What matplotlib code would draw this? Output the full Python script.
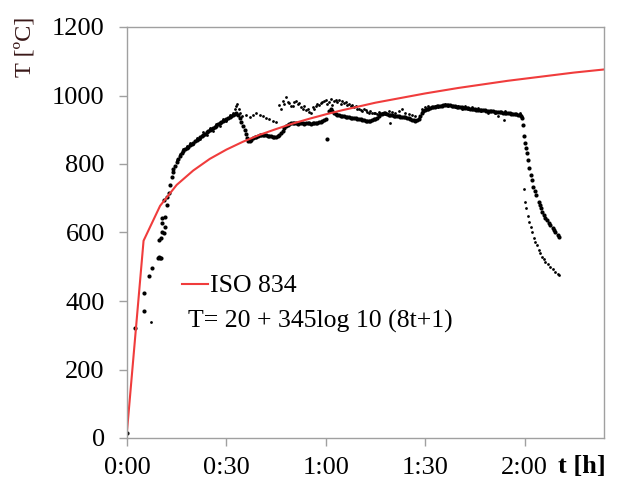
import numpy as np
import matplotlib
matplotlib.use("Agg")
from matplotlib import pyplot as plt

plt.rcParams['font.family'] = ['Liberation Serif', 'DejaVu Serif']

# ISO 834 standard curve, read at 5 min steps (t in minutes)
iso_t = [0, 5, 10, 15, 20, 25, 30, 35, 40, 45, 50, 55, 60, 65, 70, 75, 80, 85,
         90, 95, 100, 105, 110, 115, 120, 125, 130, 135, 140, 144]
iso_T = [20, 576, 678, 739, 781, 815, 842, 865, 885, 902, 918, 932, 945, 957,
         968, 979, 988, 997, 1006, 1014, 1022, 1029, 1036, 1043, 1049, 1055,
         1061, 1067, 1072, 1076]

# measurement 1 (dense, larger dots)
meas1_t = [0, 2.3, 5.0, 5.2, 6.7, 7.5, 9.3, 9.7, 10.1, 10.4, 9.8, 10.4, 10.6, 11.1,
           11.4, 10.6, 11.6, 10.6, 12.1, 11.1, 12.1, 12.6, 13.1, 13.6, 13.9,
           14.0, 14.5, 15.0, 15.5, 16.0, 16.5, 17.0, 17.5, 18.0, 18.5, 19.0, 19.5,
           20.0, 20.5, 21.0, 21.5, 22.0, 22.5, 23.0, 23.5, 24.0, 24.5, 25.0, 25.5,
           26.0, 26.5, 27.0, 27.5, 28.0, 28.5, 29.0, 29.5, 30.0, 30.5, 31.0, 31.5,
           32.0, 32.5, 33.0, 33.5, 34.0, 34.5, 35.0, 35.5, 36.0, 36.3, 36.6, 37.0,
           37.5, 38.0, 38.5, 39.0, 39.5, 40.0, 40.5, 41.0, 41.5, 42.0, 42.5, 43.0,
           43.5, 44.0, 44.5, 45.0, 45.5, 46.0, 46.5, 47.0, 47.5, 48.0, 48.5, 49.0,
           49.5, 50.0, 50.5, 51.0, 51.5, 52.0, 52.5, 53.0, 53.5, 54.0, 54.5, 55.0,
           55.5, 56.0, 56.5, 57.0, 57.5, 58.0, 58.5, 59.0, 59.5, 60.0, 60.5, 61.0,
           61.5, 62.0, 62.5, 63.0, 63.5, 64.0, 64.5, 65.0, 65.5, 66.0, 66.5, 67.0,
           67.5, 68.0, 68.5, 69.0, 69.5, 70.0, 70.5, 71.0, 71.5, 72.0, 72.5, 73.0,
           73.5, 74.0, 74.5, 75.0, 75.5, 76.0, 76.5, 77.0, 77.5, 78.0, 78.5, 79.0,
           79.5, 80.0, 80.5, 81.0, 81.5, 82.0, 82.5, 83.0, 83.5, 84.0, 84.5, 85.0,
           85.5, 86.0, 86.5, 87.0, 87.5, 88.0, 88.5, 89.0, 89.5, 90.0, 90.5, 91.0,
           91.5, 92.0, 92.5, 93.0, 93.5, 94.0, 94.5, 95.0, 95.5, 96.0, 96.5, 97.0,
           97.5, 98.0, 98.5, 99.0, 99.5, 100.0, 100.5, 101.0, 101.5, 102.0, 102.5,
           103.0, 103.5, 104.0, 104.5, 105.0, 105.5, 106.0, 106.5, 107.0, 107.5,
           108.0, 108.5, 109.0, 109.5, 110.0, 110.5, 111.0, 111.5, 112.0, 112.5,
           113.0, 113.5, 114.0, 114.5, 115.0, 115.5, 116.0, 116.5, 117.0, 117.5,
           118.0, 118.5, 119.0, 119.2, 119.5, 119.9, 120.2, 120.5, 120.9, 121.2,
           121.5, 121.9, 122.2, 122.7, 123.1, 123.5, 124.3, 124.7, 125.0, 125.4,
           125.8, 126.3, 126.8, 127.3, 127.8, 128.5, 128.9, 129.3, 130.0, 130.5]
meas1_T = [15, 322, 372, 424, 473, 497, 527, 528, 526, 527, 578, 583, 602, 598,
           617, 627, 646, 641, 680, 695, 705, 714, 739, 763, 778,
           785, 795, 805, 815, 824, 832, 838, 843, 847, 851, 855, 858,
           862, 866, 869, 874, 878, 882, 885, 889, 892, 896, 899, 902,
           906, 909, 912, 916, 919, 922, 925, 928, 931, 934, 937, 940,
           942, 945, 948, 944, 935, 922, 911, 899, 887, 877, 867, 866,
           870, 875, 878, 880, 882, 884, 886, 886, 885, 884, 883, 882,
           881, 880, 879, 880, 882, 886, 891, 897, 904, 910, 914, 917,
           919, 919, 920, 919, 918, 919, 920, 919, 918, 919, 920, 919,
           918, 919, 920, 920, 921, 922, 924, 926, 928, 930, 872, 955,
           962, 955, 950, 947, 944, 942, 941, 940, 939, 938, 937, 936,
           935, 934, 933, 933, 932, 931, 930, 929, 928, 927, 926, 925,
           926, 928, 930, 932, 935, 940, 945, 947, 948, 948, 946, 944,
           943, 942, 941, 940, 940, 939, 938, 938, 937, 936, 935, 933,
           931, 929, 928, 927, 928, 932, 940, 948, 955, 958, 960, 962,
           963, 965, 966, 967, 968, 969, 970, 970, 971, 972, 972, 972,
           971, 970, 969, 968, 967, 966, 965, 965, 964, 964, 963,
           963, 962, 961, 961, 960, 959, 959, 958, 958, 957,
           957, 956, 956, 955, 954, 954, 953, 953, 952, 952,
           951, 950, 950, 949, 948, 948, 947, 946, 946, 945,
           944, 943, 940, 935, 914, 882, 860, 846, 831, 812,
           787, 768, 753, 734, 721, 709, 690, 680, 671, 661,
           651, 643, 636, 629, 622, 612, 607, 602, 594, 588]

# measurement 2 (scattered, smaller dots)
meas2_t = [7.2, 15, 16, 17, 18, 19, 20, 21, 22, 23, 24, 25, 26, 27, 28, 29, 30, 31,
           32, 32.5, 33, 33.3, 33.8, 34.2, 34.6, 36, 37, 38, 39, 40, 41, 42, 43,
           44, 45, 46, 46.5, 47, 47.5, 48, 48.5, 49, 49.5, 50, 50.5, 51, 51.5, 52,
           52.5, 53, 53.5, 54, 54.5, 55, 55.5, 56, 56.5, 57, 57.5, 58, 58.5, 59,
           59.5, 60, 60.5, 61, 61.5, 62, 62.5, 63, 63.5, 64, 64.5, 65, 65.5, 66,
           66.5, 67, 67.5, 68, 68.5, 69, 69.5, 70, 70.5, 71, 71.5, 72, 72.5, 73,
           73.5, 74, 74.5, 75, 75.5, 76, 77, 78, 79, 79.5, 80, 81, 82, 83, 84, 85,
           86, 87, 88, 89, 90, 91, 92, 93, 94, 95, 96, 97, 98, 99, 100, 101, 102,
           103, 104, 105, 106, 107, 108, 109, 110, 111, 112, 113, 113.7, 114, 115,
           116, 117, 118, 118.7, 119.2, 119.7, 120.2, 120.5, 121.1, 121.4, 121.9,
           122.4, 122.9, 123.3, 123.7, 124.3, 124.8, 125.3, 125.8, 126.3, 127.0,
           127.8, 128.5, 129.3, 130.0, 130.5]
meas2_T = [340, 812, 830, 845, 852, 862, 858, 876, 872, 892, 884, 905, 897, 918,
           910, 930, 925, 942, 950, 960, 968, 975, 960, 950, 940, 942, 938, 943,
           948, 944, 940, 935, 930, 926, 924, 972, 960, 985, 975, 997, 982, 978,
           970, 968, 980, 985, 975, 977, 965, 960, 970, 958, 962, 953, 948, 965,
           960, 970, 975, 972, 978, 980, 985, 987, 975, 982, 990, 972, 985, 988,
           980, 987, 975, 983, 978, 982, 972, 976, 970, 972, 965, 968, 960, 962,
           958, 955, 960, 958, 952, 950, 955, 948, 950, 948, 946, 953, 950, 945,
           955, 919, 952, 948, 955, 960, 950, 945, 943, 940, 935, 960, 965, 968,
           965, 970, 965, 972, 975, 968, 970, 965, 968, 962, 970, 960, 965, 958,
           963, 955, 958, 950, 955, 948, 940, 952, 928, 955, 948, 950, 945, 942,
           948, 938, 726, 690, 671, 648, 632, 617, 602, 583, 573, 563, 549, 539,
           529, 522, 515, 507, 500, 493, 486, 480, 476]

x_ticks = [0, 30, 60, 90, 120]
x_labels = ['0:00', '0:30', '1:00', '1:30', '2:00']
y_ticks = [0, 200, 400, 600, 800, 1000, 1200]

fig = plt.figure(figsize=(6.17, 4.82), dpi=100)
ax = fig.add_axes([127/617, 1-438/482, 477/617, 411/482])

ax.plot(meas2_t, meas2_T, 'o', color='black', ms=2.0, mew=0)
ax.plot(meas1_t, meas1_T, 'o', color='black', ms=3.0, mew=0)
iso_line, = ax.plot(iso_t, iso_T, color='#f03c3c', lw=1.5)

ax.set_xlim(0, 144)
ax.set_ylim(0, 1200)
ax.set_xticks(x_ticks)
ax.set_xticklabels(x_labels)
ax.set_yticks(y_ticks)

gray = '#a0a0a0'
for s in ax.spines.values():
    s.set_color(gray)
    s.set_linewidth(1.0)
ax.tick_params(axis='both', colors=gray, labelcolor='black', labelsize=19,
               length=6, width=1.0)
ax.tick_params(axis='y', pad=10)
ax.tick_params(axis='x', pad=8)

ax.legend([iso_line], ['ISO 834'], loc='center left', frameon=False,
          bbox_to_anchor=(182/617, 1-286/482), bbox_transform=fig.transFigure,
          borderpad=0, borderaxespad=0, handlelength=1.0, handletextpad=0.1,
          fontsize=18.5)
fig.text(188/617, 1-321/482, 'T= 20 + 345log 10 (8t+1)', fontsize=18.5,
         ha='left', va='center')

fig.text(25/617, 1-47/482, 'T [ºC]', rotation=90, fontsize=17.5,
         color='#3a1818', ha='center', va='center')
fig.text(558/617, 1-467/482, 't [h]', fontsize=19, fontweight='bold',
         ha='left', va='center')

fig.savefig('out.png', dpi=100)
